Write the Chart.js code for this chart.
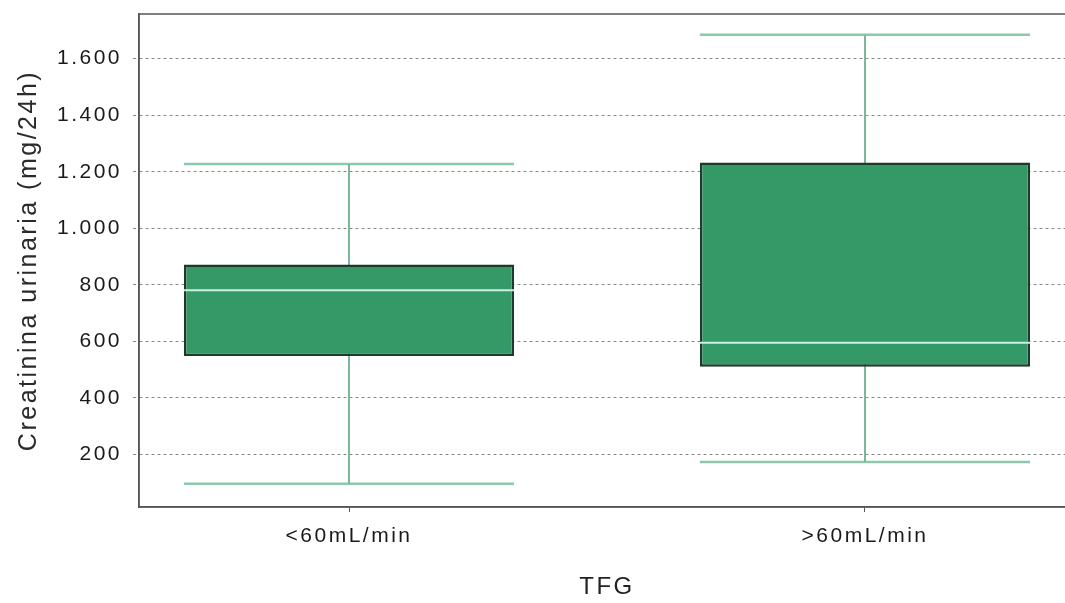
<!DOCTYPE html>
<html>
<head>
<meta charset="utf-8">
<script src="https://cdn.jsdelivr.net/npm/chart.js@4"></script>
<style>
  html, body { margin: 0; padding: 0; background: #fff; overflow: hidden; }
  #wrap { width: 1065px; height: 603px; overflow: hidden; }
</style>
</head>
<body>
<div id="wrap"><canvas id="myChart" width="1080" height="603"></canvas></div>
<script>
// box plot data
var categories = ['<60mL/min', '>60mL/min'];
var lowWhisker = [96, 173];
var q1 = [548, 510];
var median = [781, 595];
var q3 = [872, 1233];
var highWhisker = [1227, 1685];
var yTicks = [200, 400, 600, 800, 1000, 1200, 1400, 1600];

var halfWidth = 0.32; // half box width in x units

var whiskerData = [], capData = [], medianData = [], boxData = [];
categories.forEach(function (c, i) {
  var x = i + 1;
  whiskerData.push({x: x, y: lowWhisker[i]}, {x: x, y: highWhisker[i]}, {x: x, y: null});
  capData.push({x: x - halfWidth, y: lowWhisker[i]}, {x: x + halfWidth, y: lowWhisker[i]}, {x: x, y: null});
  capData.push({x: x - halfWidth, y: highWhisker[i]}, {x: x + halfWidth, y: highWhisker[i]}, {x: x, y: null});
  medianData.push({x: x - halfWidth, y: median[i]}, {x: x + halfWidth, y: median[i]}, {x: x, y: null});
  boxData.push({x: x, y: [q1[i], q3[i]]});
});

var frame = {
  id: 'frame',
  beforeDraw: function (chart) {
    chart.ctx.letterSpacing = '2.5px';
  },
  afterDraw: function (chart) {
    var a = chart.chartArea, ctx = chart.ctx;
    ctx.save();
    ctx.strokeStyle = '#555';
    ctx.lineWidth = 1.5;
    ctx.strokeRect(a.left, a.top, a.right - a.left, a.bottom - a.top);
    ctx.restore();
  }
};

var ctx = document.getElementById('myChart').getContext('2d');
var chart = new Chart(ctx, {
  type: 'bar',
  data: {
    datasets: [{
      type: 'line',
      data: medianData,
      borderColor: '#c9f1dd',
      borderWidth: 2,
      pointRadius: 0,
      spanGaps: false,
      order: 0
    }, {
      type: 'bar',
      data: boxData,
      backgroundColor: '#349966',
      borderColor: '#1d3a2a',
      borderWidth: 2.5,
      borderSkipped: false,
      categoryPercentage: 1,
      barPercentage: halfWidth * 2,
      order: 1
    }, {
      type: 'line',
      data: whiskerData,
      borderColor: '#79b89a',
      borderWidth: 2,
      pointRadius: 0,
      spanGaps: false,
      order: 2
    }, {
      type: 'line',
      data: capData,
      borderColor: '#8cc8ab',
      borderWidth: 2.5,
      pointRadius: 0,
      spanGaps: false,
      order: 2
    }]
  },
  options: {
    responsive: false,
    animation: false,
    devicePixelRatio: 1,
    layout: {padding: {top: 14, right: 5, left: 0, bottom: 0}},
    plugins: {legend: {display: false}, tooltip: {enabled: false}},
    scales: {
      x: {
        type: 'linear',
        offset: false,
        min: 0.593,
        max: 2.407,
        afterBuildTicks: function (scale) {
          scale.ticks = categories.map(function (c, i) { return {value: i + 1}; });
        },
        afterFit: function (scale) {
          scale.height = 96;
          scale.paddingLeft = 0;
          scale.paddingRight = 0;
        },
        grid: {offset: false, drawOnChartArea: false, drawTicks: true, tickLength: 5, tickColor: '#555'},
        border: {display: true, color: '#555', width: 1.5},
        ticks: {
          font: {family: 'Liberation Sans', size: 21},
          color: '#1a1a1a',
          padding: 12,
          maxRotation: 0,
          callback: function (v) { return categories[v - 1]; }
        },
        title: {
          display: true,
          text: 'TFG',
          font: {family: 'Liberation Sans', size: 24},
          color: '#222',
          padding: {top: 0, bottom: 1}
        }
      },
      y: {
        type: 'linear',
        min: 14,
        max: 1758,
        afterBuildTicks: function (scale) {
          scale.ticks = yTicks.map(function (v) { return {value: v}; });
        },
        afterFit: function (scale) {
          scale.width = 139;
          scale.paddingTop = 0;
          scale.paddingBottom = 0;
        },
        grid: {color: '#888', lineWidth: 1, tickLength: 6, tickBorderDash: [3, 3], tickColor: '#888'},
        border: {display: true, color: '#555', width: 1.5, dash: [3, 3]},
        ticks: {
          font: {family: 'Liberation Sans', size: 21},
          color: '#1a1a1a',
          padding: 11,
          callback: function (v) { return v.toLocaleString('de-DE'); }
        },
        title: {
          display: true,
          text: 'Creatinina urinaria (mg/24h)',
          font: {family: 'Liberation Sans', size: 25},
          color: '#2a2a2a',
          padding: {top: 14, bottom: 0}
        }
      }
    }
  },
  plugins: [frame]
});
</script>
</body>
</html>
